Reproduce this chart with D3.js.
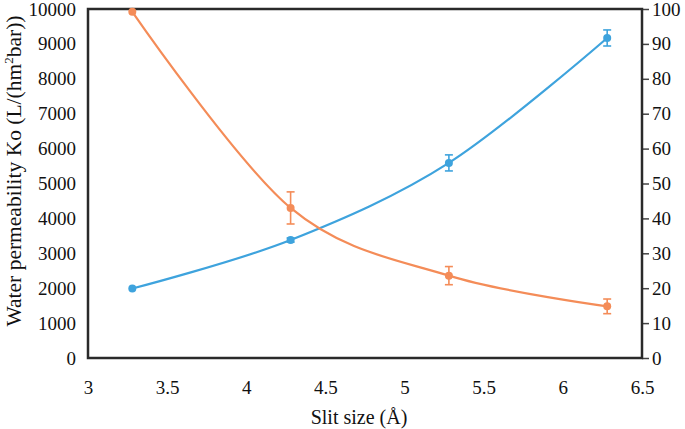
<!DOCTYPE html>
<html><head><meta charset="utf-8">
<script src="https://cdn.jsdelivr.net/npm/d3@7"></script>
<style>body{margin:0;background:#fff}svg{display:block}text{font-family:"Liberation Serif","Times New Roman",serif;fill:#111}</style>
</head><body>
<script>
const slitSize = [3.28, 4.28, 5.28, 6.28];
const permeability = [1990, 3380, 5590, 9170];
const permeabilityErr = [0, 60, 230, 230];
const rejection = [99.2, 43.0, 23.6, 14.8];
const rejectionErr = [0, 4.6, 2.6, 2.1];
const xTicks = [3, 3.5, 4, 4.5, 5, 5.5, 6, 6.5];
const yLeftTicks = [0,1000,2000,3000,4000,5000,6000,7000,8000,9000,10000];
const yRightTicks = [0,10,20,30,40,50,60,70,80,90,100];

const W=685,H=429, L=88, R=642, T=9, B=358;
const svg=d3.select("body").append("svg").attr("width",W).attr("height",H);
const x=d3.scaleLinear().domain([3,6.5]).range([L,R]);
const yL=d3.scaleLinear().domain([0,10000]).range([B,T]);
const yR=d3.scaleLinear().domain([0,100]).range([B,T]);
const blue="#3ea3dd", orange="#f48c58";
const fs=19;

const ax1=svg.append("g").attr("transform",`translate(${L},0)`).call(d3.axisLeft(yL).tickValues(yLeftTicks).tickSize(0).tickPadding(12).tickFormat(d3.format("d")));
const ax2=svg.append("g").attr("transform",`translate(${R},0)`).call(d3.axisRight(yR).tickValues(yRightTicks).tickSize(7).tickPadding(3).tickFormat(d3.format("d")));
const ax3=svg.append("g").attr("transform",`translate(0,${B})`).call(d3.axisBottom(x).tickValues(xTicks).tickSize(0).tickPadding(23).tickFormat(d=>d));
[ax1,ax2,ax3].forEach(a=>{a.select(".domain").remove();a.selectAll("text").style("font-size",fs+"px").style("font-family",'"Liberation Serif",serif').attr("fill","#111");a.selectAll("line").attr("stroke","#444").attr("stroke-width",1.5);});

svg.append("rect").attr("x",L).attr("y",T).attr("width",R-L).attr("height",B-T).attr("fill","none").attr("stroke","#2a2a2a").attr("stroke-width",2.5);

function series(vals, errs, y, color){
  const pts=slitSize.map((s,i)=>[x(s),y(vals[i])]);
  svg.append("path").attr("d",d3.line().curve(d3.curveCatmullRom.alpha(0))(pts)).attr("fill","none").attr("stroke",color).attr("stroke-width",2.2);
  const g=svg.append("g");
  slitSize.forEach((s,i)=>{
    if(errs[i]>0){
      const y1=y(vals[i]+errs[i]), y2=y(vals[i]-errs[i]), cx=x(s);
      g.append("line").attr("x1",cx).attr("x2",cx).attr("y1",y1).attr("y2",y2).attr("stroke",color).attr("stroke-width",1.6);
      [y1,y2].forEach(yy=>g.append("line").attr("x1",cx-4).attr("x2",cx+4).attr("y1",yy).attr("y2",yy).attr("stroke",color).attr("stroke-width",1.6));
    }
    g.append("circle").attr("cx",x(s)).attr("cy",y(vals[i])).attr("r",4).attr("fill",color);
  });
}
series(permeability, permeabilityErr, yL, blue);
series(rejection, rejectionErr, yR, orange);

svg.append("text").attr("x",(L+R)/2-6).attr("y",424).attr("text-anchor","middle").style("font-size","20px").text("Slit size (Å)");
const yt=svg.append("text").attr("transform",`translate(21,171) rotate(-90)`).attr("text-anchor","middle").style("font-size","21.5px");
yt.append("tspan").text("Water permeability Ko (L/(hm");
yt.append("tspan").attr("dy",-8).style("font-size","13px").text("2");
yt.append("tspan").attr("dy",8).text("bar))");
</script>
</body></html>
